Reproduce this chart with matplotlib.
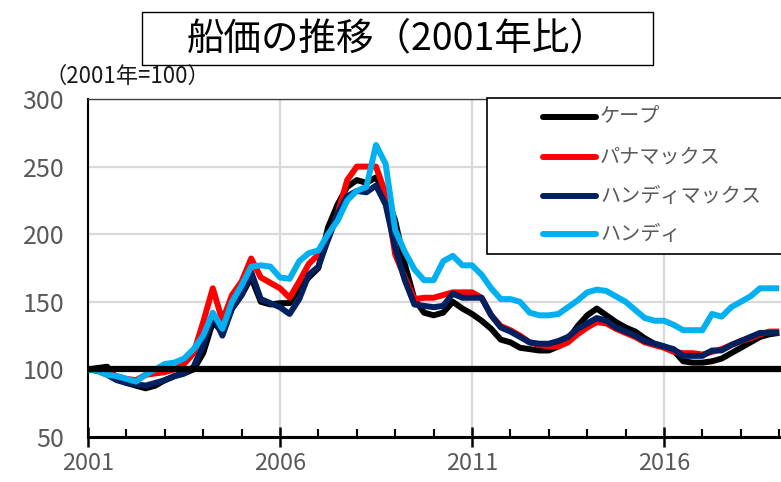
import numpy as np
import matplotlib
matplotlib.use("Agg")
import matplotlib.pyplot as plt
from matplotlib.patches import Rectangle
from matplotlib.lines import Line2D
from matplotlib.ticker import MultipleLocator

plt.rcParams['font.family'] = ['Noto Sans CJK JP', 'DejaVu Sans']

# quarterly observations, 2001Q1 .. 2019Q1
start_year = 2001
step = 0.25

cape = [100, 101, 102, 93, 90, 88, 86, 88, 92, 95, 97, 100,
        112, 135, 128, 145, 155, 168, 150, 148, 149, 149, 160, 168,
        175, 205, 222, 235, 240, 238, 242, 230, 210, 178, 152, 142,
        140, 142, 150, 145, 141, 136, 130, 122, 120, 116, 115, 114,
        114, 117, 122, 132, 140, 145, 140, 135, 131, 128, 123, 119,
        117, 114, 106, 105, 105, 106, 108, 112, 116, 120, 124, 126, 127]
panamax = [100, 99, 97, 95, 93, 92, 96, 97, 98, 100, 104, 112,
           135, 160, 136, 155, 165, 182, 168, 164, 160, 153, 165, 178,
           185, 196, 215, 240, 250, 250, 250, 230, 185, 168, 152, 153,
           153, 155, 157, 157, 157, 153, 140, 132, 129, 125, 120, 118,
           117, 117, 120, 126, 131, 135, 134, 130, 127, 124, 120, 118,
           116, 113, 112, 112, 111, 113, 115, 118, 121, 123, 126, 128, 128]
handymax = [100, 99, 96, 92, 90, 89, 88, 90, 92, 95, 97, 102,
            118, 140, 125, 145, 155, 172, 152, 149, 146, 141, 152, 170,
            176, 196, 215, 228, 232, 231, 236, 222, 190, 166, 148, 147,
            146, 147, 156, 153, 153, 153, 140, 131, 128, 124, 120, 119,
            119, 121, 124, 130, 134, 138, 136, 131, 128, 125, 121, 119,
            117, 115, 110, 110, 110, 114, 114, 118, 121, 124, 127, 127, 127]
handy = [100, 99, 96, 95, 93, 91, 96, 100, 104, 105, 108, 115,
         125, 142, 130, 150, 162, 176, 177, 176, 168, 167, 180, 186,
         188, 200, 210, 225, 232, 235, 266, 252, 203, 187, 174, 166,
         166, 180, 184, 177, 177, 170, 160, 152, 152, 150, 142, 140,
         140, 141, 146, 151, 157, 159, 158, 154, 150, 144, 138, 136,
         136, 133, 129, 129, 129, 141, 139, 146, 150, 154, 160, 160, 160]

series_names = ['ケープ', 'パナマックス', 'ハンディマックス', 'ハンディ']
series_values = [cape, panamax, handymax, handy]
series_colors = ['#000000', '#FF0000', '#002060', '#00B0F0']

x_ticks = [2001, 2006, 2011, 2016]
y_ticks = [50, 100, 150, 200, 250, 300]

W, H = 781, 482
fig = plt.figure(figsize=(W / 100, H / 100), dpi=100)

def fx(px):
    return px / W

def fy(py):
    return 1 - py / H

ax = fig.add_axes([fx(88), fy(437), fx(781) - fx(88), fy(99) - fy(437)])

x = start_year + step * np.arange(len(cape))
for name, vals, col in zip(series_names, series_values, series_colors):
    ax.plot(x, vals, color=col, lw=4.3, solid_joinstyle='round', solid_capstyle='butt',
            label=name, zorder=3)

ax.axhline(100, color='black', lw=4.5, zorder=4)

ax.set_xlim(2001, 2001 + (781 - 88) / 38.4)
ax.set_ylim(50, 300)
ax.set_xticks(x_ticks)
ax.xaxis.set_minor_locator(MultipleLocator(1))
ax.set_yticks(y_ticks)
ax.tick_params(axis='y', length=0, labelsize=18, labelcolor='#595959', pad=17)
ax.tick_params(axis='x', which='major', direction='inout', length=14, width=1.8,
               labelsize=17, labelcolor='#595959', pad=4)
ax.tick_params(axis='x', which='minor', direction='in', length=6, width=1.5)

ax.grid(True, axis='both', which='major', color='#d9d9d9', lw=1.6, zorder=0)
ax.set_axisbelow(True)

ax.spines['right'].set_visible(False)
ax.spines['top'].set_color('#404040')
ax.spines['top'].set_linewidth(1.0)
ax.spines['left'].set_color('black')
ax.spines['left'].set_linewidth(1.5)
ax.spines['bottom'].set_color('black')
ax.spines['bottom'].set_linewidth(2.2)

# y unit label
fig.text(fx(44), fy(76), '（2001年=100）', fontsize=16, color='#1a1a1a',
         ha='left', va='center')

# title box
fig.patches.append(Rectangle((fx(142), fy(65)), fx(653) - fx(142), fy(12) - fy(65),
                             transform=fig.transFigure, fill=False, ec='black', lw=1.0))
fig.text(fx(397), fy(39), '船価の推移（2001年比）', fontsize=27, color='black',
         ha='center', va='center')

# legend (manual box)
fig.patches.append(Rectangle((fx(487), fy(254)), fx(820) - fx(487), fy(98) - fy(254),
                             transform=fig.transFigure, fc='white', ec='black', lw=1.2,
                             zorder=10))
rows = [117, 157, 196, 234]
for name, col, ry in zip(series_names, series_colors, rows):
    fig.lines.append(Line2D([fx(543), fx(596)], [fy(ry), fy(ry)], transform=fig.transFigure,
                            color=col, lw=4.3, solid_capstyle='round', zorder=11))
    fig.text(fx(600), fy(ry), name, fontsize=14.5, color='#595959', ha='left', va='center',
             zorder=12)

fig.savefig('out.png', dpi=100)
